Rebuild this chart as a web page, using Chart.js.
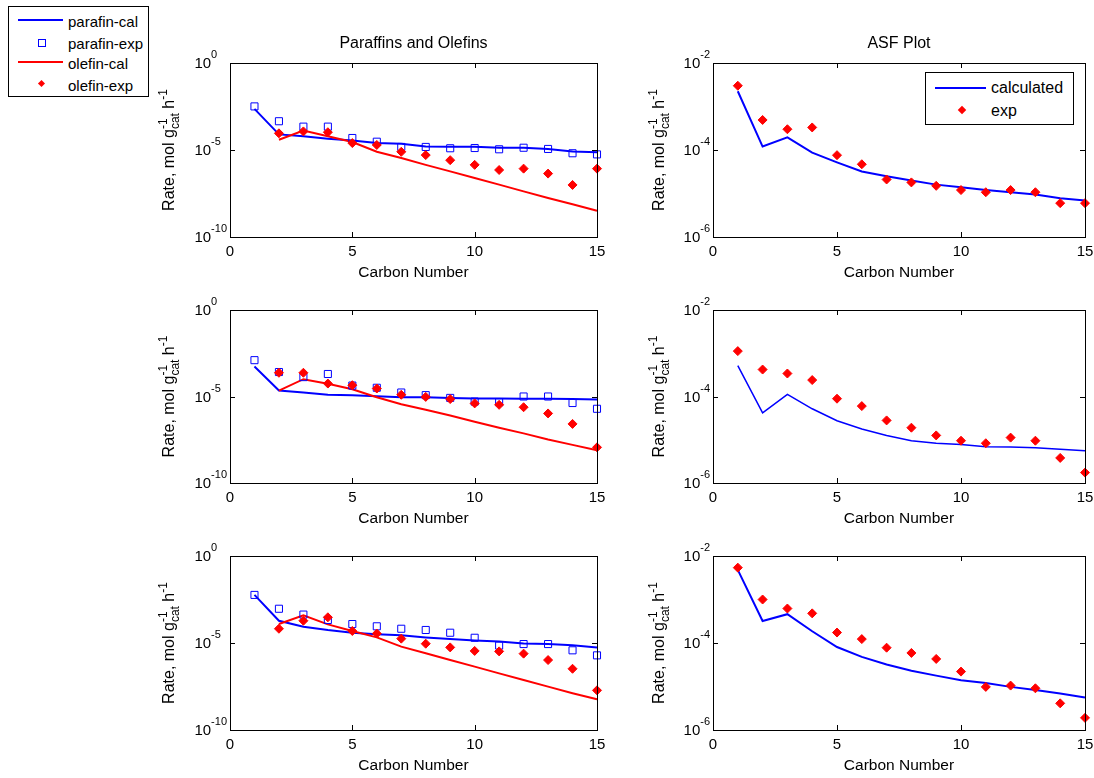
<!DOCTYPE html>
<html>
<head>
<meta charset="utf-8">
<script src="https://cdn.jsdelivr.net/npm/chart.js@4.4.1/dist/chart.umd.min.js"></script>
<style>
  html, body { margin: 0; padding: 0; background: #fff; }
  #page { position: relative; width: 1094px; height: 778px; overflow: hidden; background: #fff;
          font-family: "Liberation Sans", Arial, sans-serif; color: #000; }
  #page canvas { position: absolute; left: 0; top: 0; }
  .lg { position: absolute; background: #fff; border: 1px solid #000; z-index: 10; box-sizing: border-box; }
  .lg .txt { position: absolute; white-space: nowrap; line-height: 1; transform: translateY(-50%); }
  .lg .ln { position: absolute; height: 2px; transform: translateY(-50%); }
</style>
</head>
<body>
<div id="page">
  <canvas id="c1" width="1094" height="778"></canvas>
  <canvas id="c2" width="1094" height="778"></canvas>
  <canvas id="c3" width="1094" height="778"></canvas>
  <canvas id="c4" width="1094" height="778"></canvas>
  <canvas id="c5" width="1094" height="778"></canvas>
  <canvas id="c6" width="1094" height="778"></canvas>

  <div class="lg" style="left:8px;top:6px;width:141px;height:91px;">
    <div class="ln" style="left:9px;top:13px;width:45px;background:#0000ff;"></div>
    <div class="txt" style="left:59px;top:14px;font-size:15px;">parafin-cal</div>
    <div style="position:absolute;left:29px;top:32px;width:6px;height:6px;border:1px solid #0000ff;"></div>
    <div class="txt" style="left:59px;top:36px;font-size:15px;">parafin-exp</div>
    <div class="ln" style="left:9px;top:55px;width:45px;background:#ff0000;"></div>
    <div class="txt" style="left:59px;top:56px;font-size:15px;">olefin-cal</div>
    <div style="position:absolute;left:30px;top:74px;width:5px;height:5px;background:#ff0000;transform:rotate(45deg);"></div>
    <div class="txt" style="left:59px;top:78px;font-size:15px;">olefin-exp</div>
  </div>

  <div class="lg" style="left:925px;top:72px;width:149px;height:53px;">
    <div class="ln" style="left:9px;top:15px;width:51px;background:#0000ff;"></div>
    <div class="txt" style="left:65px;top:15px;font-size:16px;">calculated</div>
    <div style="position:absolute;left:33px;top:34px;width:6px;height:6px;background:#ff0000;transform:rotate(45deg);"></div>
    <div class="txt" style="left:65px;top:38px;font-size:16px;">exp</div>
  </div>
</div>

<script>
// ---------------- data ----------------
const carbonNumber = [1, 2, 3, 4, 5, 6, 7, 8, 9, 10, 11, 12, 13, 14, 15];
const olefinCarbon = [2, 3, 4, 5, 6, 7, 8, 9, 10, 11, 12, 13, 14, 15];
const xTickValues = [0, 5, 10, 15];
const poYTicks = [1e-10, 1e-5, 1e0];
const asfYTicks = [1e-6, 1e-4, 1e-2];

// Row 1
const paraffinCal1 = [2.3e-3, 7.9e-5, 6.2e-5, 4.5e-5, 3.5e-5, 2.5e-5, 2.3e-5, 1.6e-5, 1.55e-5, 1.55e-5, 1.35e-5, 1.35e-5, 1.15e-5, 8.3e-6, 7.4e-6];
const paraffinExp1 = [3.2e-3, 4.5e-4, 2.2e-4, 2.2e-4, 4.9e-5, 3.0e-5, 1.5e-5, 1.5e-5, 1.26e-5, 1.3e-5, 1.1e-5, 1.35e-5, 1.15e-5, 6.5e-6, 5.6e-6];
const olefinCal1 = [3.9e-5, 1.3e-4, 6.2e-5, 2.9e-5, 7.9e-6, 3.5e-6, 1.4e-6, 5.9e-7, 2.45e-7, 1.02e-7, 4.2e-8, 1.74e-8, 7.6e-9, 3.2e-9];
const olefinExp1 = [9.1e-5, 1.17e-4, 1.05e-4, 2.5e-5, 1.95e-5, 7.9e-6, 5.1e-6, 2.6e-6, 1.4e-6, 7.1e-7, 8.5e-7, 4.4e-7, 9.8e-8, 8.5e-7];
const asfCalc1 = [2.24e-3, 1.2e-4, 1.95e-4, 8.7e-5, 5.2e-5, 3.2e-5, 2.5e-5, 2.0e-5, 1.6e-5, 1.4e-5, 1.2e-5, 1.07e-5, 9.5e-6, 7.8e-6, 6.9e-6];
const asfExp1 = [3.0e-3, 4.9e-4, 3.0e-4, 3.3e-4, 7.6e-5, 4.7e-5, 2.1e-5, 1.8e-5, 1.5e-5, 1.2e-5, 1.07e-5, 1.2e-5, 1.07e-5, 6.0e-6, 6.0e-6];

// Row 2
const paraffinCal2 = [5.4e-4, 2.2e-5, 1.7e-5, 1.26e-5, 1.2e-5, 1.05e-5, 9.1e-6, 9.1e-6, 8.3e-6, 7.6e-6, 7.6e-6, 7.4e-6, 7.4e-6, 7.1e-6, 6.8e-6];
const paraffinExp2 = [1.26e-3, 2.6e-4, 1.32e-4, 2.0e-4, 4.3e-5, 3.2e-5, 1.7e-5, 1.2e-5, 8.3e-6, 5.1e-6, 4.7e-6, 1.0e-5, 1.0e-5, 4.2e-6, 1.95e-6];
const olefinCal2 = [2.2e-5, 1.0e-4, 5.4e-5, 2.6e-5, 9.1e-6, 3.6e-6, 1.7e-6, 7.9e-7, 3.5e-7, 1.55e-7, 7.4e-8, 3.3e-8, 1.6e-8, 7.9e-9];
const olefinExp2 = [2.35e-4, 2.35e-4, 5.6e-5, 4.5e-5, 2.9e-5, 1.26e-5, 9.5e-6, 7.1e-6, 4.0e-6, 3.3e-6, 2.4e-6, 1.05e-6, 2.6e-7, 1.15e-8];
const asfCalc2 = [5.2e-4, 4.2e-5, 1.12e-4, 5.2e-5, 2.75e-5, 1.78e-5, 1.26e-5, 9.5e-6, 8.3e-6, 7.8e-6, 6.9e-6, 6.8e-6, 6.5e-6, 6.0e-6, 5.6e-6];
const asfExp2 = [1.12e-3, 4.2e-4, 3.4e-4, 2.4e-4, 8.9e-5, 6.0e-5, 2.8e-5, 1.9e-5, 1.26e-5, 9.5e-6, 8.3e-6, 1.12e-5, 9.5e-6, 3.8e-6, 1.74e-6];

// Row 3
const paraffinCal3 = [5.8e-3, 1.9e-4, 8.7e-5, 5.6e-5, 3.9e-5, 3.2e-5, 2.75e-5, 2.1e-5, 1.7e-5, 1.4e-5, 1.2e-5, 9.5e-6, 8.7e-6, 7.4e-6, 5.6e-6];
const paraffinExp3 = [5.8e-3, 9.3e-4, 4.3e-4, 2.1e-4, 1.23e-4, 9.1e-5, 6.6e-5, 5.6e-5, 3.9e-5, 2.0e-5, 7.1e-6, 8.7e-6, 8.7e-6, 3.8e-6, 1.95e-6];
const olefinCal3 = [1.23e-4, 3.9e-4, 1.17e-4, 4.9e-5, 2.1e-5, 6.2e-6, 2.6e-6, 1.05e-6, 4.4e-7, 1.8e-7, 7.4e-8, 3.1e-8, 1.3e-8, 5.8e-9];
const olefinExp3 = [6.6e-5, 1.9e-4, 3.0e-4, 4.9e-5, 3.5e-5, 1.78e-5, 9.1e-6, 5.6e-6, 3.5e-6, 3.3e-6, 2.45e-6, 1.05e-6, 3.3e-7, 1.9e-8];
const asfCalc3 = [4.8e-3, 3.2e-4, 4.6e-4, 1.86e-4, 8.1e-5, 4.8e-5, 3.2e-5, 2.3e-5, 1.78e-5, 1.4e-5, 1.2e-5, 9.8e-6, 8.3e-6, 6.9e-6, 5.6e-6];
const asfExp3 = [5.4e-3, 1.0e-3, 6.2e-4, 4.8e-4, 1.74e-4, 1.23e-4, 7.8e-5, 5.9e-5, 4.3e-5, 2.2e-5, 9.8e-6, 1.05e-5, 9.1e-6, 4.1e-6, 1.9e-6];

const titleLeft = 'Paraffins and Olefins';
const titleRight = 'ASF Plot';
const xTitle = 'Carbon Number';

// ---------------- styling / layout ----------------
const W = 1094, H = 778;
const BLUE = '#0000ff', RED = '#ff0000';
const FONT = '"Liberation Sans", Arial, sans-serif';

function pts(xs, ys) { return xs.map((x, i) => ({ x: x, y: ys[i] })); }

function lineDS(xs, ys, color, order, width) {
  return { data: pts(xs, ys), borderColor: color, backgroundColor: color, borderWidth: width || 2,
           pointRadius: 0, showLine: true, tension: 0, clip: false, order: order };
}
function squareDS(xs, ys, order) {
  return { data: pts(xs, ys), showLine: false, pointStyle: 'rect', pointRadius: 5,
           pointBorderColor: BLUE, pointBackgroundColor: 'rgba(0,0,0,0)', pointBorderWidth: 1,
           borderColor: BLUE, clip: false, order: order };
}
function diamondDS(xs, ys, order) {
  return { data: pts(xs, ys), showLine: false, pointStyle: 'rectRot', pointRadius: 4.5,
           pointBorderColor: RED, pointBackgroundColor: RED, pointBorderWidth: 1,
           borderColor: RED, clip: false, order: order };
}

const axesPlugin = {
  id: 'matlabAxes',
  afterDraw(chart, args, opts) {
    const ctx = chart.ctx;
    const a = chart.chartArea;
    const xs = chart.scales.x, ys = chart.scales.y;
    ctx.save();
    ctx.strokeStyle = '#000';
    ctx.fillStyle = '#000';
    ctx.lineWidth = 1;
    // box
    ctx.strokeRect(Math.round(a.left) + 0.5, Math.round(a.top) + 0.5,
                   Math.round(a.right - a.left), Math.round(a.bottom - a.top));
    // inner ticks
    ctx.beginPath();
    xTickValues.forEach(v => {
      const px = Math.round(xs.getPixelForValue(v)) + 0.5;
      ctx.moveTo(px, a.bottom); ctx.lineTo(px, a.bottom - 5);
      ctx.moveTo(px, a.top); ctx.lineTo(px, a.top + 5);
    });
    opts.yTicks.forEach(v => {
      const py = Math.round(ys.getPixelForValue(v)) + 0.5;
      ctx.moveTo(a.left, py); ctx.lineTo(a.left + 5, py);
      ctx.moveTo(a.right, py); ctx.lineTo(a.right - 5, py);
    });
    ctx.stroke();

    // x tick labels
    ctx.font = '15px ' + FONT;
    ctx.textAlign = 'center';
    ctx.textBaseline = 'middle';
    xTickValues.forEach(v => {
      ctx.fillText(String(v), xs.getPixelForValue(v), a.bottom + 15);
    });
    // x title
    ctx.font = '15.5px ' + FONT;
    ctx.fillText(xTitle, (a.left + a.right) / 2, a.bottom + 36);
    // title
    if (opts.title) {
      ctx.font = '16px ' + FONT;
      ctx.fillText(opts.title, (a.left + a.right) / 2, a.top - 19);
    }
    // y tick labels 10^n
    const baseFont = '15px ' + FONT, supFont = '11px ' + FONT;
    ctx.font = baseFont;
    const bw = ctx.measureText('10').width;
    ctx.font = supFont;
    const exps = opts.yTicks.map(v => String(Math.round(Math.log10(v))));
    const maxExpW = Math.max.apply(null, exps.map(e => ctx.measureText(e).width));
    const startX = a.left - 3 - bw - maxExpW;
    ctx.textAlign = 'left';
    opts.yTicks.forEach((v, i) => {
      const py = ys.getPixelForValue(v);
      ctx.font = baseFont;
      ctx.fillText('10', startX, py + 1);
      ctx.font = supFont;
      ctx.fillText(exps[i], startX + bw, py - 8);
    });
    // y title: Rate, mol g_cat^-1 h^-1
    const mainF = '16px ' + FONT, smallF = '12px ' + FONT;
    ctx.font = mainF;
    const w1 = ctx.measureText('Rate, mol g').width;
    const w3 = ctx.measureText(' h').width;
    ctx.font = smallF;
    const wSub = ctx.measureText('cat').width;
    const wSup = ctx.measureText('-1').width;
    const total = w1 + Math.max(wSub, wSup) + w3 + wSup;
    ctx.translate(startX - 20, (a.top + a.bottom) / 2);
    ctx.rotate(-Math.PI / 2);
    ctx.textBaseline = 'alphabetic';
    let x = -total / 2;
    ctx.font = mainF; ctx.fillText('Rate, mol g', x, 0); x += w1;
    ctx.font = smallF; ctx.fillText('cat', x, 5); ctx.fillText('-1', x, -7); x += Math.max(wSub, wSup);
    ctx.font = mainF; ctx.fillText(' h', x, 0); x += w3;
    ctx.font = smallF; ctx.fillText('-1', x, -7);
    ctx.restore();
  }
};

function makeChart(id, area, yMin, yMax, yTicks, title, datasets) {
  return new Chart(document.getElementById(id), {
    type: 'line',
    data: { datasets: datasets },
    options: {
      responsive: false, animation: false, devicePixelRatio: 1, events: [],
      layout: { padding: { left: area[0], top: area[1], right: W - area[2], bottom: H - area[3] } },
      scales: {
        x: { type: 'linear', min: 0, max: 15, display: false },
        y: { type: 'logarithmic', min: yMin, max: yMax, display: false }
      },
      plugins: {
        legend: { display: false }, tooltip: { enabled: false },
        matlabAxes: { yTicks: yTicks, title: title }
      }
    },
    plugins: [axesPlugin]
  });
}

const leftX = [230, 597], rightX = [713, 1085];
const rowsY = [[63, 237], [310, 483], [556, 730]];

function poSets(pc, pe, oc, oe) {
  return [
    lineDS(carbonNumber, pc, BLUE, 3),
    squareDS(carbonNumber, pe, 1),
    lineDS(olefinCarbon, oc, RED, 2),
    diamondDS(olefinCarbon, oe, 0)
  ];
}
function asfSets(c, e, w) {
  return [ lineDS(carbonNumber, c, BLUE, 1, w), diamondDS(carbonNumber, e, 0) ];
}

makeChart('c1', [leftX[0], rowsY[0][0], leftX[1], rowsY[0][1]], 1e-10, 1, poYTicks, titleLeft,
          poSets(paraffinCal1, paraffinExp1, olefinCal1, olefinExp1));
makeChart('c2', [rightX[0], rowsY[0][0], rightX[1], rowsY[0][1]], 1e-6, 1e-2, asfYTicks, titleRight,
          asfSets(asfCalc1, asfExp1, 2));
makeChart('c3', [leftX[0], rowsY[1][0], leftX[1], rowsY[1][1]], 1e-10, 1, poYTicks, null,
          poSets(paraffinCal2, paraffinExp2, olefinCal2, olefinExp2));
makeChart('c4', [rightX[0], rowsY[1][0], rightX[1], rowsY[1][1]], 1e-6, 1e-2, asfYTicks, null,
          asfSets(asfCalc2, asfExp2, 1.5));
makeChart('c5', [leftX[0], rowsY[2][0], leftX[1], rowsY[2][1]], 1e-10, 1, poYTicks, null,
          poSets(paraffinCal3, paraffinExp3, olefinCal3, olefinExp3));
makeChart('c6', [rightX[0], rowsY[2][0], rightX[1], rowsY[2][1]], 1e-6, 1e-2, asfYTicks, null,
          asfSets(asfCalc3, asfExp3, 2));
</script>
</body>
</html>
